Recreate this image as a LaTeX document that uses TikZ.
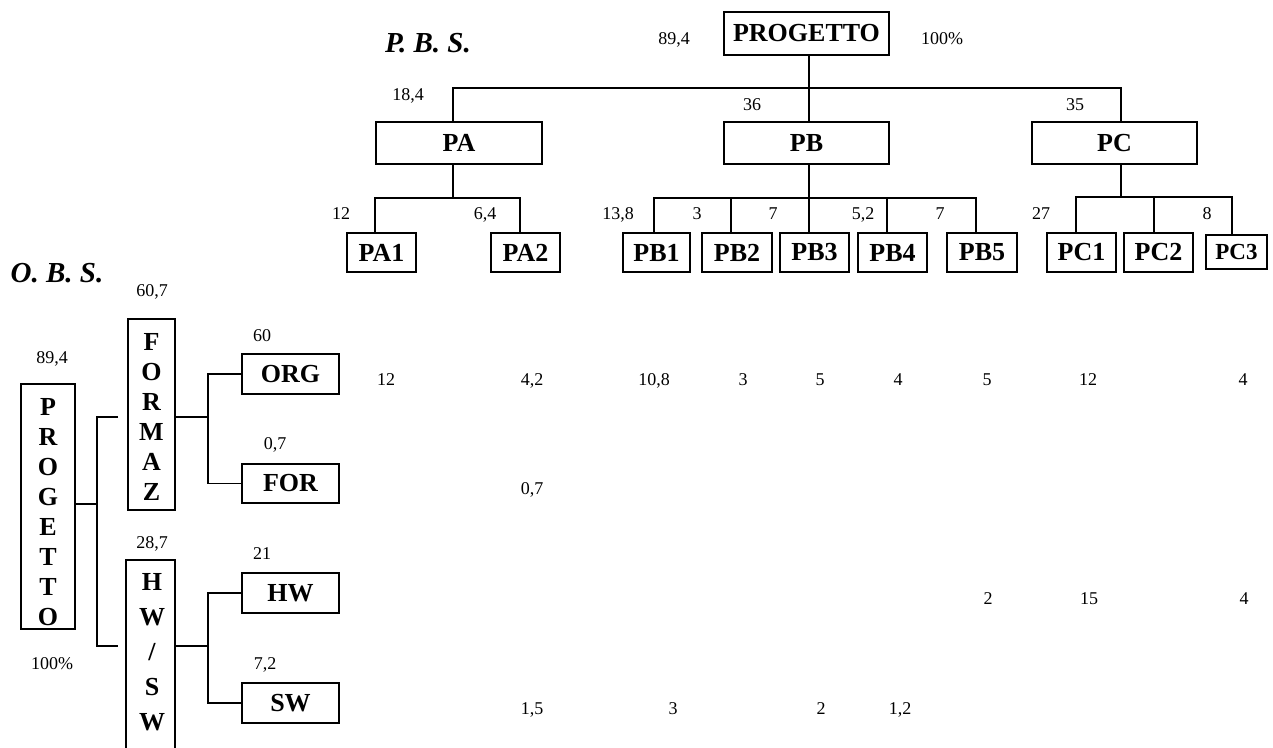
\documentclass[tikz,border=0pt]{standalone}
\usepackage{fontspec}
\setmainfont{Liberation Serif}
\usetikzlibrary{calc}
\begin{document}
\begin{tikzpicture}[x=1pt,y=-1pt,line width=1.2pt,
  box/.style={draw,line width=1.2pt,inner sep=0pt,font=\fontsize{26}{30}\selectfont\bfseries},
  sbox/.style={box,minimum height=39pt},
  obox/.style={box,minimum width=97pt},
  stack/.style={inner sep=0pt,align=center,font=\fontsize{26}{30}\selectfont\bfseries},
  num/.style={inner sep=0pt,font=\fontsize{18}{20}\selectfont,text height=12.5pt,text depth=0pt},
  ttl/.style={inner sep=0pt,font=\fontsize{29}{32}\selectfont\bfseries\itshape}]
\clip (0,0) rectangle (1273,747);

% ---------- P.B.S. ----------
\node[ttl] (pbs) at (428,43) {P. B. S.};
\node[box,minimum width=165pt,minimum height=43pt] (prog) at (806.5,33.5) {PROGETTO};
\node[num] (nprog) at (674,38) {89,4};
\node[num] (pprog) at (942,38) {100\%};

\node[box,minimum width=166pt,minimum height=42pt] (pa) at (459,143) {PA};
\node[box,minimum width=165pt,minimum height=42pt] (pb) at (806.5,143) {PB};
\node[box,minimum width=165pt,minimum height=42pt] (pc) at (1114.5,143) {PC};
\node[num] (npa) at (408,94) {18,4};
\node[num] (npb) at (752,104) {36};
\node[num] (npc) at (1075,104) {35};

\node[sbox,minimum width=69pt] (pa1) at (381.5,252.5) {PA1};
\node[sbox,minimum width=69pt] (pa2) at (525.5,252.5) {PA2};
\node[sbox,minimum width=67pt] (pb1) at (656.5,252.5) {PB1};
\node[sbox,minimum width=70pt] (pb2) at (737,252.5) {PB2};
\node[sbox,minimum width=69pt] (pb3) at (814.5,252.5) {PB3};
\node[sbox,minimum width=69pt] (pb4) at (892.5,252.5) {PB4};
\node[sbox,minimum width=70pt] (pb5) at (982,252.5) {PB5};
\node[sbox,minimum width=69pt] (pc1) at (1081.5,252.5) {PC1};
\node[sbox,minimum width=69pt] (pc2) at (1158.5,252.5) {PC2};
\node[box,minimum width=61pt,minimum height=34pt,font=\fontsize{23}{26}\selectfont\bfseries] (pc3) at (1236.5,252) {PC3};

\node[num] (npa1) at (341,213) {12};
\node[num] (npa2) at (485,213) {6,4};
\node[num] (npb1) at (618,213) {13,8};
\node[num] (npb2) at (697,213) {3};
\node[num] (npb3) at (773,213) {7};
\node[num] (npb4) at (863,213) {5,2};
\node[num] (npb5) at (940,213) {7};
\node[num] (npc1) at (1041,213) {27};
\node[num] (npc3) at (1207,213) {8};

\coordinate (bar) at (809,88);
\draw (prog.south -| bar) -- (pb.north -| bar);
\draw ([xshift=-6pt]pa.north) |- (bar) -| ([xshift=6.5pt]pc.north);

\coordinate (pasub) at (453,198);
\draw ([xshift=-6pt]pa.south) -- (pasub);
\draw ([xshift=-6.5pt]pa1.north) |- (pasub) -| ([xshift=-5.5pt]pa2.north);

\coordinate (pbsub) at (809,198);
\draw (pb.south -| pbsub) -- ([xshift=-5.5pt]pb3.north);
\draw ([xshift=-2.5pt]pb1.north) |- (pbsub) -| ([xshift=-6pt]pb5.north);
\draw ([xshift=-6pt]pb2.north) |- (pbsub);
\draw ([xshift=-5.5pt]pb4.north) |- (pbsub);

\coordinate (pcsub) at (1121,197);
\draw ([xshift=6.5pt]pc.south) -- (pcsub);
\draw ([xshift=-5.5pt]pc1.north) |- (pcsub) -| ([xshift=-4.5pt]pc3.north);
\draw ([xshift=-4.5pt]pc2.north) |- (pcsub);

% ---------- O.B.S. ----------
\node[ttl] (obs) at (57,273) {O. B. S.};

\node[box,minimum width=54pt,minimum height=245pt] (pv) at (48,506.5) {};
\node[stack] (pvt) at (48,512.5) {P\\R\\O\\G\\E\\T\\T\\O};
\node[num] (npv) at (52,357) {89,4};
\node[num] (ppv) at (52,663) {100\%};

\node[box,minimum width=47pt,minimum height=191pt] (fz) at (151.5,414.5) {};
\node[stack] (fzt) at (151.5,417) {F\\O\\R\\M\\A\\Z};
\node[num] (nfz) at (152,290) {60,7};

\node[box,minimum width=49pt,minimum height=200pt] (hs) at (150.5,660) {};
\node[stack,font=\fontsize{26}{35}\selectfont\bfseries] (hst) at (152,652.5) {H\\W\\/\\S\\W};
\node[num] (nhs) at (152,542) {28,7};

\node[obox,minimum height=40pt] (org) at (290.5,374) {ORG};
\node[obox,minimum height=39pt] (for) at (290.5,483.5) {FOR};
\node[obox,minimum height=40pt] (hw) at (290.5,593) {HW};
\node[obox,minimum height=40pt] (sw) at (290.5,703) {SW};
\node[num] (norg) at (262,335) {60};
\node[num] (nfor) at (275,443) {0,7};
\node[num] (nhw) at (262,553) {21};
\node[num] (nsw) at (265,663) {7,2};

\coordinate (lj) at (97,504);
\coordinate (fzin) at (118,417);
\coordinate (hsin) at (118,646);
\draw ($(pv.east)+(0,-2.5)$) -- (lj);
\draw (fzin) -| (lj) |- (hsin);

\coordinate (fzj) at (208,417);
\draw ($(fz.east)+(0,2.5)$) -- (fzj);
\draw (org.west) -| (fzj) |- (for.west);

\coordinate (hsj) at (208,646);
\draw (hs.east |- hsj) -- (hsj);
\draw (hw.west) -| (hsj) |- (sw.west);

% ---------- matrix ----------
\node[num] (m1) at (386,379) {12};
\node[num] (m2) at (532,379) {4,2};
\node[num] (m3) at (654,379) {10,8};
\node[num] (m4) at (743,379) {3};
\node[num] (m5) at (820,379) {5};
\node[num] (m6) at (898,379) {4};
\node[num] (m7) at (987,379) {5};
\node[num] (m8) at (1088,379) {12};
\node[num] (m9) at (1243,379) {4};

\node[num] (f1) at (532,488) {0,7};

\node[num] (h1) at (988,598) {2};
\node[num] (h2) at (1089,598) {15};
\node[num] (h3) at (1244,598) {4};

\node[num] (s1) at (532,708) {1,5};
\node[num] (s2) at (673,708) {3};
\node[num] (s3) at (821,708) {2};
\node[num] (s4) at (900,708) {1,2};
\end{tikzpicture}
\end{document}
